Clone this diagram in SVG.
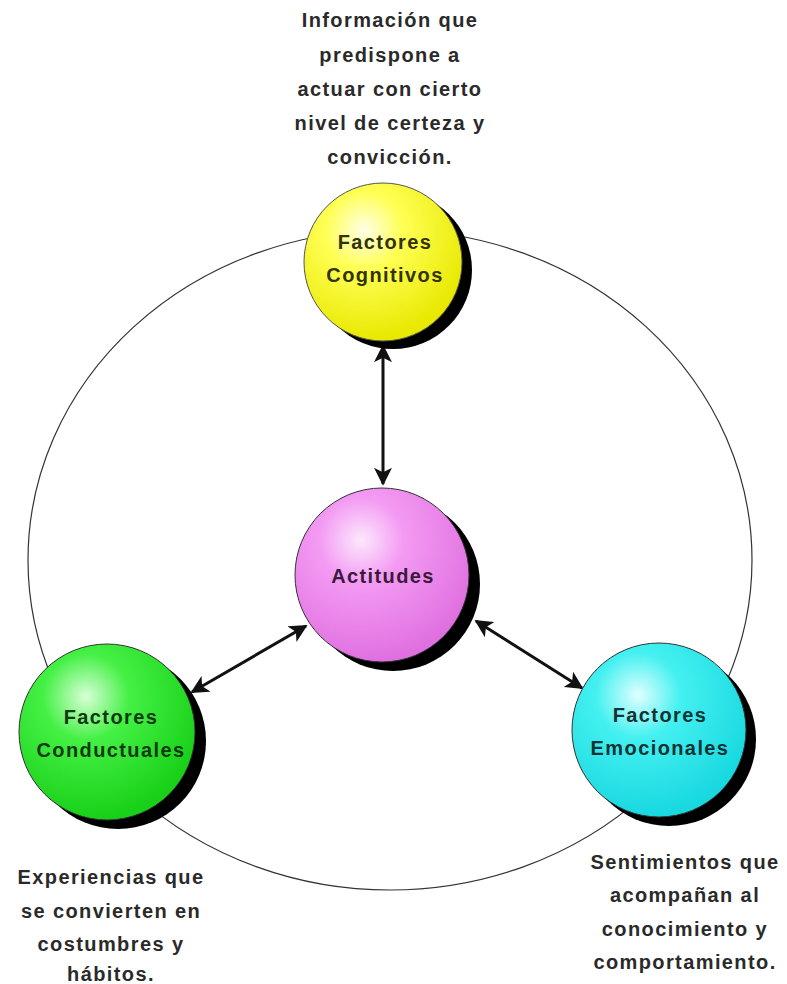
<svg xmlns="http://www.w3.org/2000/svg" width="787" height="984" viewBox="0 0 787 984">
<style>
.t{font-family:"Liberation Sans",Arial,sans-serif;font-weight:bold;font-size:20px;fill:#2a2a2a;text-anchor:middle;letter-spacing:1.4px}
.n{font-family:"Liberation Sans",Arial,sans-serif;font-weight:bold;font-size:20px;text-anchor:middle;letter-spacing:1.4px}
.sh{fill:#000}
.ring{fill:none;stroke:#333;stroke-width:1.2}
.con{stroke:#111;stroke-width:3;fill:none;marker-start:url(#a);marker-end:url(#a)}
</style>
<defs>
<marker id="a" viewBox="0 0 10 10" refX="9" refY="5" markerWidth="6" markerHeight="6" orient="auto-start-reverse" markerUnits="strokeWidth">
<path d="M0,0 L10,5 L0,10 L2.5,5 z" fill="#111"/>
</marker>
<radialGradient id="gy" cx="0.38" cy="0.3" r="0.7">
<stop offset="0" stop-color="#ffffe8"/><stop offset="0.35" stop-color="#ffff55"/><stop offset="1" stop-color="#e8e800"/>
</radialGradient>
<radialGradient id="gp" cx="0.38" cy="0.3" r="0.7">
<stop offset="0" stop-color="#fce8fc"/><stop offset="0.35" stop-color="#f39af3"/><stop offset="1" stop-color="#e070e0"/>
</radialGradient>
<radialGradient id="gg" cx="0.38" cy="0.3" r="0.7">
<stop offset="0" stop-color="#d8ffd8"/><stop offset="0.35" stop-color="#44f044"/><stop offset="1" stop-color="#18d018"/>
</radialGradient>
<radialGradient id="gc" cx="0.38" cy="0.3" r="0.7">
<stop offset="0" stop-color="#e0ffff"/><stop offset="0.35" stop-color="#44f0f0"/><stop offset="1" stop-color="#18d8e0"/>
</radialGradient>
</defs>
<rect width="787" height="984" fill="#fff"/>
<ellipse class="ring" cx="390" cy="560" rx="362" ry="330"/>
<g id="connectors">
<line class="con" x1="383" y1="346" x2="383" y2="484"/>
<line class="con" x1="306" y1="626" x2="192" y2="692"/>
<line class="con" x1="476" y1="621" x2="582" y2="688"/>
</g>
<g id="cognitivos">
<circle class="sh" cx="393" cy="270" r="79"/>
<circle cx="383" cy="262" r="79" fill="url(#gy)" stroke="#555" stroke-width="1"/>
<text class="n" x="385" y="249" fill="#333300">Factores</text>
<text class="n" x="385" y="282" fill="#333300">Cognitivos</text>
</g>
<g id="actitudes">
<circle class="sh" cx="393" cy="584" r="87"/>
<circle cx="382" cy="575" r="87" fill="url(#gp)" stroke="#333" stroke-width="1"/>
<text class="n" x="383" y="583" fill="#3a1a3a">Actitudes</text>
</g>
<g id="conductuales">
<circle class="sh" cx="118" cy="741" r="88"/>
<circle cx="107" cy="732" r="88" fill="url(#gg)" stroke="#333" stroke-width="1"/>
<text class="n" x="111" y="724" fill="#0f3a0f">Factores</text>
<text class="n" x="111" y="757" fill="#0f3a0f">Conductuales</text>
</g>
<g id="emocionales">
<circle class="sh" cx="669" cy="739" r="87"/>
<circle cx="659" cy="730" r="87" fill="url(#gc)" stroke="#333" stroke-width="1"/>
<text class="n" x="660" y="722" fill="#113333">Factores</text>
<text class="n" x="660" y="755" fill="#113333">Emocionales</text>
</g>
<g id="desc-top">
<text class="t" x="390" y="27">Información que</text>
<text class="t" x="390" y="62">predispone a</text>
<text class="t" x="390" y="96">actuar con cierto</text>
<text class="t" x="390" y="130">nivel de certeza y</text>
<text class="t" x="390" y="164">convicción.</text>
</g>
<g id="desc-left">
<text class="t" x="111" y="884">Experiencias que</text>
<text class="t" x="111" y="918">se convierten en</text>
<text class="t" x="111" y="951">costumbres y</text>
<text class="t" x="111" y="981">hábitos.</text>
</g>
<g id="desc-right">
<text class="t" x="685" y="869">Sentimientos que</text>
<text class="t" x="685" y="902">acompañan al</text>
<text class="t" x="685" y="936">conocimiento y</text>
<text class="t" x="685" y="969">comportamiento.</text>
</g>
</svg>
